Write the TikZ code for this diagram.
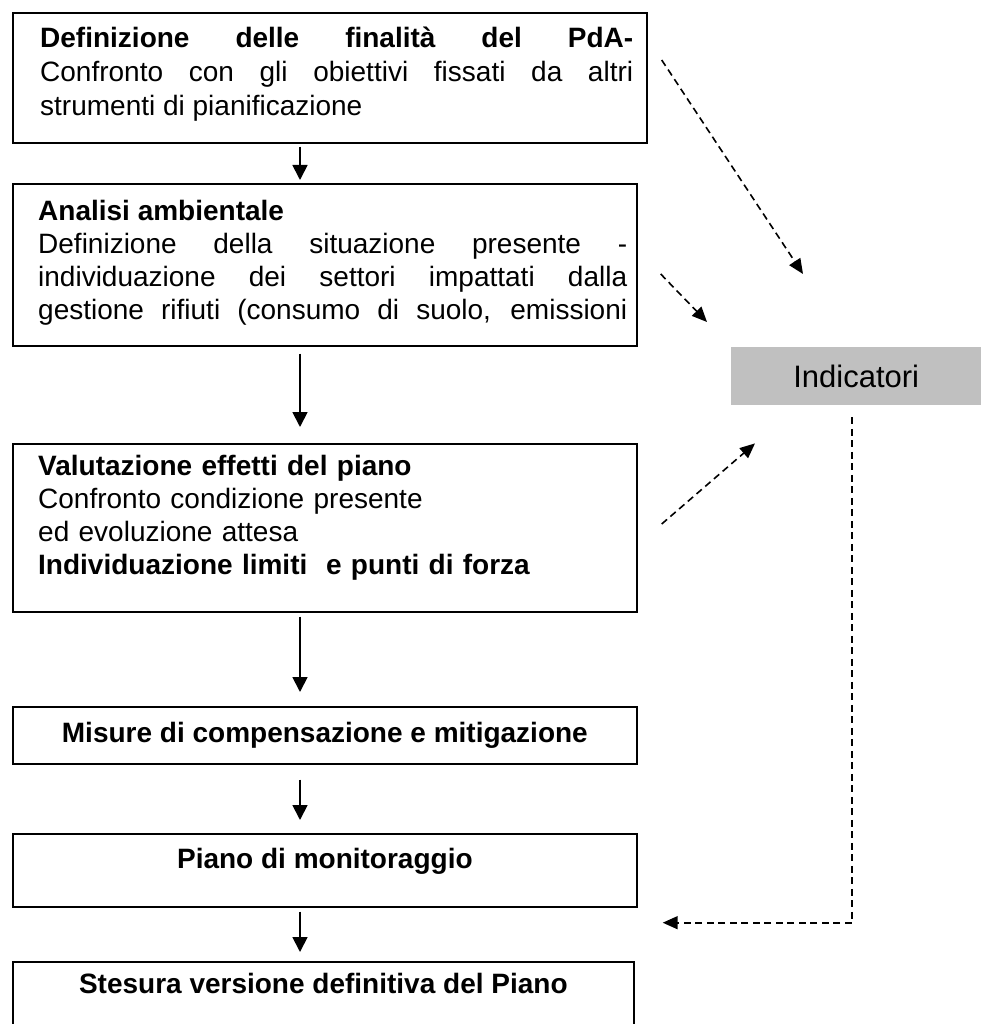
\documentclass[tikz,border=0pt]{standalone}
\usepackage{fontspec}
\setmainfont{Liberation Sans}
\usetikzlibrary{arrows.meta}

\definecolor{indgray}{HTML}{C0C0C0}
\newcommand{\flowfont}{\fontsize{28}{33}\selectfont}

\begin{document}
\begin{tikzpicture}[x=1pt, y=-1pt,
  box/.style={draw, line width=1.7pt, inner sep=0pt, anchor=north west},
  boxtext/.style={anchor=north west, inner sep=0pt, font=\flowfont},
  boxtitle/.style={anchor=base, inner sep=0pt, font=\flowfont\bfseries},
  flow/.style={line width=1.8pt, -{Triangle[length=15pt, width=15pt]}},
  link/.style={line width=1.6pt, dash pattern=on 7pt off 4.5pt,
    -{Triangle[length=15pt, width=13pt]}}]

\useasboundingbox (0,0) rectangle (985,1024);

% ===== MAIN COLUMN: the steps =====
\node[box, minimum width=634pt, minimum height=130pt] (defin) at (12,12) {};
\node[boxtext, text width=593pt, align=justify, font=\fontsize{28}{34}\selectfont]
  (defin-t) at ([shift={(28,14.5)}]defin.north west)
  {{\bfseries Definizione delle finalità del PdA-}\linebreak
   Confronto con gli obiettivi fissati da altri\linebreak
   strumenti di pianificazione};

\node[box, minimum width=624pt, minimum height=162pt] (ambient) at (12,183) {};
\node[boxtext, text width=589pt, align=justify]
  (ambient-t) at ([shift={(26,17.5)}]ambient.north west)
  {{\bfseries Analisi ambientale}\par
   \parfillskip=0pt
   Definizione della situazione presente -\linebreak
   individuazione dei settori impattati dalla\linebreak
   gestione rifiuti (consumo di suolo, emissioni\par};

\node[box, minimum width=624pt, minimum height=168pt] (valut) at (12,443) {};
\node[boxtext, text width=589pt, align=left]
  (valut-t) at ([shift={(26,12.5)}]valut.north west)
  {{\bfseries Valutazione effetti del piano}\\
   Confronto condizione presente\\
   ed evoluzione attesa\\
   {\bfseries Individuazione limiti\ \ e punti di forza}};

\node[box, minimum width=624pt, minimum height=57pt, font=\flowfont\bfseries]
  (misure) at (12,706) {Misure di compensazione e mitigazione};

\node[box, minimum width=624pt, minimum height=73pt] (monit) at (12,833) {};
\node[boxtitle] (monit-t) at ([shift={(0,35)}]monit.north) {Piano di monitoraggio};

% the last box runs past the lower edge of the page
\node[box, minimum width=621pt, minimum height=75pt] (stesura) at (12,961) {};
\node[boxtitle] (stesura-t) at ([shift={(0,32)}]stesura.north)
  {Stesura versione definitiva del Piano};

% ===== RIGHT: indicators =====
\node[fill=indgray, inner sep=0pt, anchor=north west,
  minimum width=250pt, minimum height=58pt, font=\fontsize{31}{36}\selectfont]
  (ind) at (731,347) {Indicatori};

% ===== solid flow arrows =====
\coordinate (spine) at (300,0);
\draw[flow, shorten <=3pt, shorten >=3pt] (defin.south -| spine) -- (ambient.north -| spine);
\draw[flow, shorten <=7pt, shorten >=16pt] (ambient.south -| spine) -- (valut.north -| spine);
\draw[flow, shorten <=4pt, shorten >=14pt] (valut.south -| spine) -- (misure.north -| spine);
\draw[flow, shorten <=15pt, shorten >=13pt] (misure.south -| spine) -- (monit.north -| spine);
\draw[flow, shorten <=4pt, shorten >=9pt] (monit.south -| spine) -- (stesura.north -| spine);

% ===== dashed links to and from the indicators =====
\coordinate (d1s) at ([shift={(14,48)}]defin.north east);
\coordinate (d1e) at ([shift={(72,-73)}]ind.north west);
\coordinate (d2s) at ([shift={(23,91)}]ambient.north east);
\coordinate (d2e) at ([shift={(-24,-25)}]ind.north west);
\coordinate (d3s) at ([shift={(24,81)}]valut.north east);
\coordinate (d3e) at ([shift={(24,38)}]ind.south west);
\coordinate (d4s) at ([shift={(-4,12)}]ind.south);
\coordinate (d4e) at ([shift={(25,15)}]monit.south east);

\draw[link] (d1s) -- (d1e);
\draw[link] (d2s) -- (d2e);
\draw[link] (d3s) -- (d3e);
\draw[link] (d4s) |- (d4e);

\end{tikzpicture}
\end{document}
